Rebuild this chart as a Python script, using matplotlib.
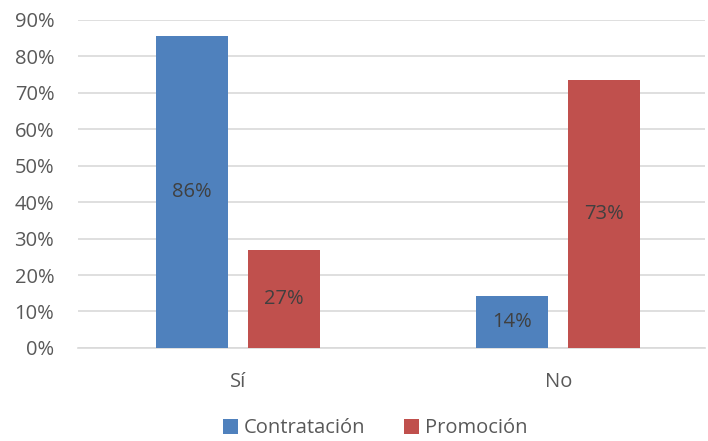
import matplotlib.pyplot as plt
from matplotlib.ticker import PercentFormatter

categorias = ["Sí", "No"]
contratacion = [85.7, 14.3]
promocion = [26.9, 73.5]
etiquetas_contr = ["86%", "14%"]
etiquetas_prom = ["27%", "73%"]

plt.rcParams['font.family'] = ['Open Sans', 'DejaVu Sans']

fig = plt.figure(figsize=(7.08, 4.41), dpi=100)
ax = fig.add_axes([0.110, 0.211, 0.886, 0.744])

x = list(range(len(categorias)))
w = 0.225
off = 0.144
b1 = ax.bar([i - off for i in x], contratacion, w, color="#4f81bd", label="Contratación", zorder=3)
b2 = ax.bar([i + off for i in x], promocion, w, color="#c0504d", label="Promoción", zorder=3)

for bars, labs in ((b1, etiquetas_contr), (b2, etiquetas_prom)):
    for r, t in zip(bars, labs):
        ax.text(r.get_x() + r.get_width() / 2, r.get_height() / 2, t,
                ha="center", va="center", fontsize=14.5, color="#404040", zorder=4)

ax.set_xlim(-0.5, 1.459)
ax.set_ylim(0, 90)
ax.set_yticks(range(0, 91, 10))
ax.yaxis.set_major_formatter(PercentFormatter(decimals=0))
ax.set_xticks(x)
ax.set_xticklabels(categorias)
ax.tick_params(axis="both", length=0, labelsize=14.5, colors="#595959")
ax.tick_params(axis="x", pad=17)
ax.tick_params(axis="y", pad=17)
ax.grid(axis="y", color="#d9d9d9", linewidth=1.2, zorder=0)
for s in ["top", "right", "left"]:
    ax.spines[s].set_visible(False)
ax.spines["bottom"].set_color("#d9d9d9")
ax.spines["bottom"].set_linewidth(1.2)

leg = fig.legend(loc="lower center", bbox_to_anchor=(0.53, -0.035), ncol=2, frameon=False,
                 fontsize=14.5, handlelength=0.75, handleheight=0.75, handletextpad=0.3,
                 columnspacing=1.9)
for t in leg.get_texts():
    t.set_color("#595959")

fig.savefig("out.png", dpi=100)
